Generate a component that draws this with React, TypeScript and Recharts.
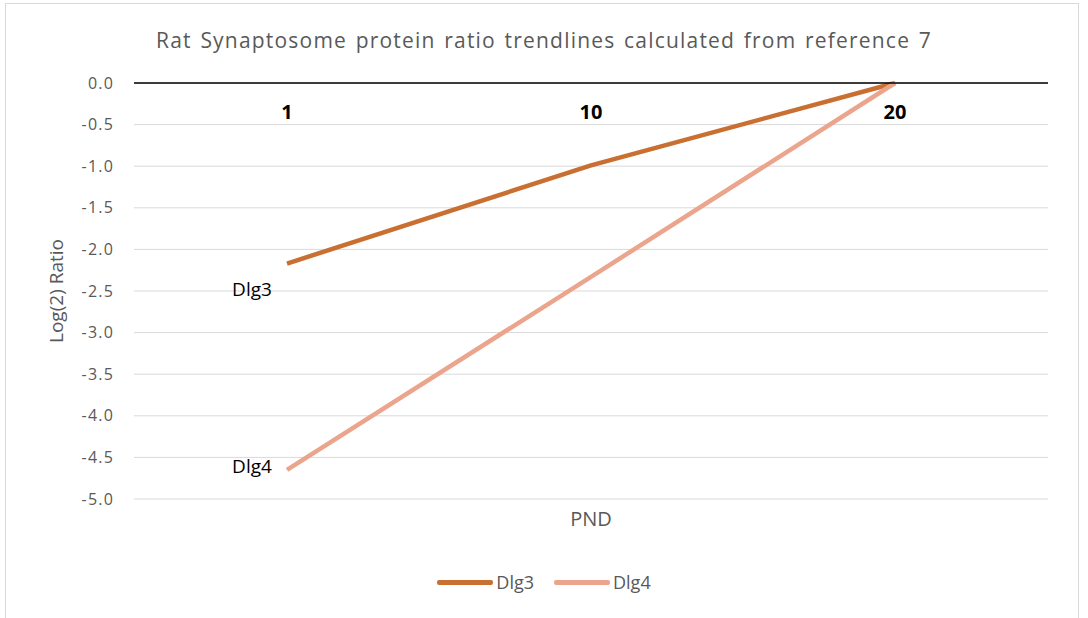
import { LineChart, Line, XAxis, YAxis, CartesianGrid, Legend } from 'recharts';

// postnatal day sampled
const pnd = ['1', '10', '20'];
// log2 ratio trendline values for each protein
const dlg3 = [-2.17, -0.99, 0];
const dlg4 = [-4.65, -2.33, 0];
const yTicks = [0, -0.5, -1, -1.5, -2, -2.5, -3, -3.5, -4, -4.5, -5];

const data = pnd.map((day, i) => ({ day, Dlg3: dlg3[i], Dlg4: dlg4[i] }));

const FONT = '"Open Sans", "Noto Sans", sans-serif';
const GREY = '#595959';

// category labels sit just under the zero line
const DayTick = (props: any) => (
  <text
    x={props.x}
    y={props.y}
    dy={44}
    textAnchor="middle"
    fontFamily={FONT}
    fontSize={20}
    fontWeight="bold"
    fill="#000"
  >
    {props.payload.value}
  </text>
);

// name the series beside its first point only
const seriesLabel = (name: string, dy: number) => (props: any) => {
  if (props.index !== 0) return null;
  return (
    <text
      x={props.x}
      y={props.y}
      dx={-35}
      dy={dy}
      textAnchor="middle"
      dominantBaseline="central"
      fontFamily={FONT}
      fontSize={19}
      fill="#000"
    >
      {name}
    </text>
  );
};

const LegendRow = (props: any) => (
  <div style={{ display: 'flex', justifyContent: 'center', gap: 20, fontFamily: FONT, fontSize: 18, color: GREY }}>
    {props.payload.map((entry: any) => (
      <div key={entry.value} style={{ display: 'flex', alignItems: 'center' }}>
        <span style={{ display: 'inline-block', width: 56, height: 5, background: entry.color, borderRadius: 2, marginRight: 3 }} />
        <span>{entry.value}</span>
      </div>
    ))}
  </div>
);

export default function App() {
  return (
    <div style={{ position: 'absolute', left: 0, top: 0, width: 1088, height: 618, background: '#fff', overflow: 'hidden' }}>
      <div style={{ position: 'absolute', left: 5, top: 3, width: 1072, height: 640, border: '1px solid #d9d9d9' }} />
      <div
        style={{
          position: 'absolute',
          top: 25,
          left: 0,
          width: 1088,
          textAlign: 'center',
          fontFamily: FONT,
          fontSize: 21,
          lineHeight: '30px',
          color: GREY,
          letterSpacing: 1.2,
          wordSpacing: 2,
        }}
      >
        Rat Synaptosome protein ratio trendlines calculated from reference 7
      </div>
      <LineChart width={1088} height={618} data={data} margin={{ top: 82, right: 40, bottom: 79, left: 0 }}>
        <CartesianGrid horizontal vertical={false} stroke="#d9d9d9" />
        <XAxis
          dataKey="day"
          orientation="top"
          height={1}
          padding={{ left: 153, right: 153 }}
          axisLine={{ stroke: '#000', strokeWidth: 1.5 }}
          tickLine={false}
          tick={<DayTick />}
          interval={0}
        />
        <XAxis
          xAxisId="pnd"
          dataKey="day"
          orientation="bottom"
          height={40}
          axisLine={false}
          tickLine={false}
          tick={false}
          label={{ value: 'PND', position: 'center', fill: GREY, fontSize: 20, fontFamily: FONT }}
        />
        <YAxis
          domain={[-5, 0]}
          ticks={yTicks}
          width={134}
          axisLine={false}
          tickLine={false}
          tickSize={0}
          tickMargin={20}
          tickFormatter={(v: number) => v.toFixed(1)}
          tick={{ fill: GREY, fontSize: 16, fontFamily: FONT, letterSpacing: 1.2 }}
          label={{ value: 'Log(2) Ratio', angle: -90, position: 'insideLeft', offset: 56, fill: GREY, fontSize: 19, fontFamily: FONT, style: { textAnchor: 'middle' } }}
        />
        <Legend verticalAlign="middle" align="center" wrapperStyle={{ top: 570, left: 0, width: 1088 }} content={<LegendRow />} />
        <Line
          dataKey="Dlg3"
          stroke="#c96f32"
          strokeWidth={4.5}
          dot={false}
          isAnimationActive={false}
          label={seriesLabel('Dlg3', 25)}
        />
        <Line
          dataKey="Dlg4"
          stroke="#eba58c"
          strokeWidth={4.5}
          dot={false}
          isAnimationActive={false}
          label={seriesLabel('Dlg4', -4)}
        />
      </LineChart>
    </div>
  );
}
